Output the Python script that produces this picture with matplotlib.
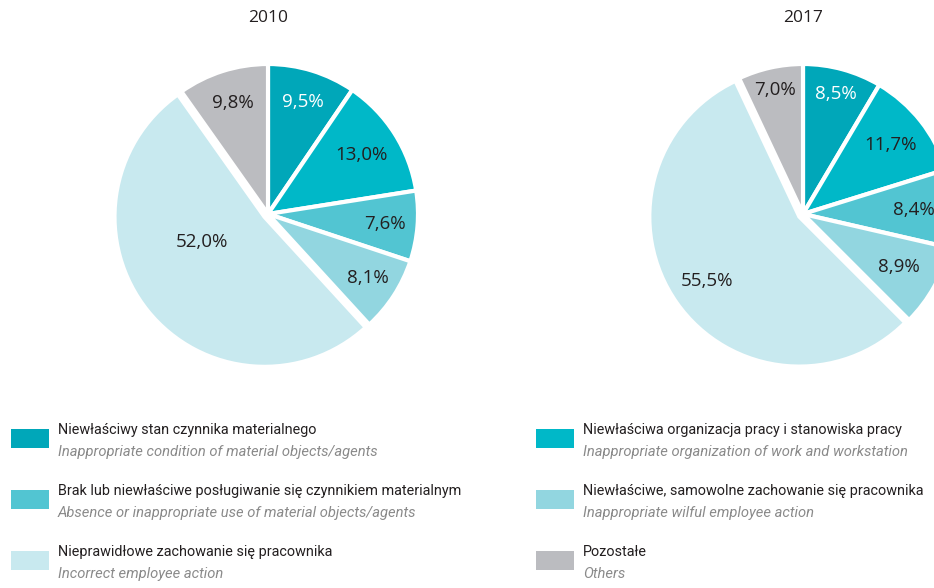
import numpy as np
import matplotlib
matplotlib.use('Agg')
import matplotlib.pyplot as plt
from matplotlib.patches import Rectangle

plt.rcParams['font.family'] = ['Open Sans', 'DejaVu Sans']

# causes of accidents, in slice order (clockwise from 12 o'clock)
years = ['2010', '2017']
shares_2010 = [9.5, 13.0, 7.6, 8.1, 52.0, 9.8]
shares_2017 = [8.5, 11.7, 8.4, 8.9, 55.5, 7.0]

labels_pl = [
    'Niewłaściwy stan czynnika materialnego',
    'Niewłaściwa organizacja pracy i stanowiska pracy',
    'Brak lub niewłaściwe posługiwanie się czynnikiem materialnym',
    'Niewłaściwe, samowolne zachowanie się pracownika',
    'Nieprawidłowe zachowanie się pracownika',
    'Pozostałe',
]
labels_en = [
    'Inappropriate condition of material objects/agents',
    'Inappropriate organization of work and workstation',
    'Absence or inappropriate use of material objects/agents',
    'Inappropriate wilful employee action',
    'Incorrect employee action',
    'Others',
]
colors = ['#00a7b9', '#00b8c8', '#52c5d2', '#92d6e0', '#c8e9ef', '#bbbcc0']
pct_colors = ['white', '#231f20', '#231f20', '#231f20', '#231f20', '#231f20']

W, H = 934, 588
fig = plt.figure(figsize=(W / 100, H / 100), dpi=100)

legend_font = ['Roboto', 'DejaVu Sans']


def px_axes(cx, cy, half):
    # square axes centred on pixel (cx, cy), measured from the top-left corner
    return fig.add_axes([(cx - half) / W, (H - cy - half) / H, 2 * half / W, 2 * half / H])


def draw_pie(ax, shares, explode, dist, shift):
    wedges, _ = ax.pie(shares, colors=colors, startangle=90, counterclock=False,
                       explode=explode,
                       wedgeprops=dict(edgecolor='white', linewidth=3))
    ax.set_xlim(-1.2, 1.2)
    ax.set_ylim(-1.2, 1.2)
    for w, v, d, s, c in zip(wedges, shares, dist, shift, pct_colors):
        ang = np.deg2rad((w.theta1 + w.theta2) / 2 + s)
        x = w.center[0] + d * np.cos(ang)
        y = w.center[1] + d * np.sin(ang)
        txt = f'{v:.1f}'.replace('.', ',') + '%'
        ax.text(x, y, txt, ha='center', va='center', fontsize=13.5, color=c)


ax1 = px_axes(268, 214, 180)
draw_pie(ax1, shares_2010, [0, 0, 0, 0, 0.03, 0],
         [0.78, 0.74, 0.78, 0.79, 0.45, 0.78], [0, 0, 0, 0, -17, 0])

ax2 = px_axes(803, 214, 180)
draw_pie(ax2, shares_2017, [0, 0, 0, 0, 0.03, 0],
         [0.83, 0.74, 0.74, 0.73, 0.75, 0.85], [0, 0, 0, 0, 0, 0])

for year, cx in zip(years, [268, 803]):
    fig.text(cx / W, 1 - 18 / H, year, ha='center', va='center',
             fontsize=12.5, color='#231f20')

# legend: two columns, three rows each
columns = [([0, 2, 4], 11, 58), ([1, 3, 5], 536, 583)]
row_tops = [429, 490, 551]
for idx, box_x, text_x in columns:
    for i, top in zip(idx, row_tops):
        fig.patches.append(Rectangle((box_x / W, 1 - (top + 19) / H), 38 / W, 19 / H,
                                     transform=fig.transFigure, facecolor=colors[i],
                                     edgecolor='none'))
        fig.text(text_x / W, 1 - (top + 1) / H, labels_pl[i], ha='left', va='center',
                 fontsize=10.4, color='#231f20', family=legend_font)
        fig.text(text_x / W, 1 - (top + 23) / H, labels_en[i], ha='left', va='center',
                 fontsize=10.6, color='#8a8a8a', style='italic', family=legend_font)

fig.savefig('out.png', dpi=100)
